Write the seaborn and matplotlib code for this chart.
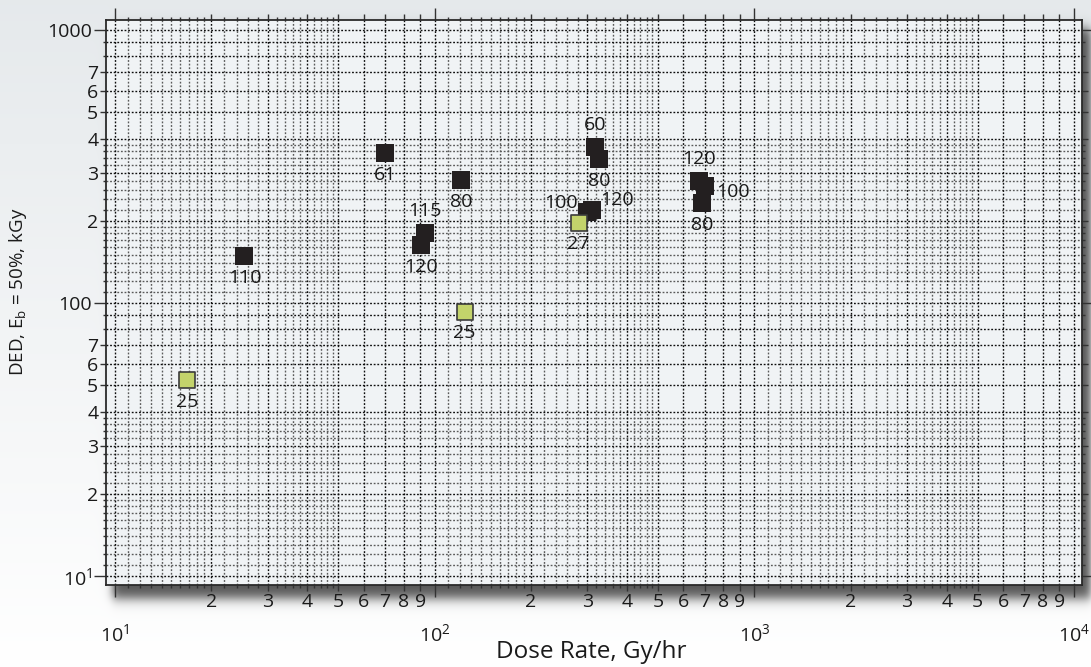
import numpy as np
import pandas as pd
import matplotlib
matplotlib.use("Agg")
import matplotlib.pyplot as plt
import seaborn as sns
from matplotlib.ticker import FixedLocator, FuncFormatter

# ---------------- data ----------------
dose_rate = [25.4, 69.7, 120.6, 93.0, 90.4, 318, 326, 299.6, 310, 669, 703, 685, 282, 124, 16.8]
ded_kgy   = [148.6, 354, 282, 181, 163, 374, 336, 215, 219, 281, 268, 232, 197, 92.9, 52.2]
point_labels = ["110", "61", "80", "115", "120", "60", "80", "100", "120", "120", "100", "80", "27", "25", "25"]
groups = ["black"] * 12 + ["green"] * 3
label_place = ["below", "below", "below", "above", "below", "above", "below", "left", "right",
               "above", "right_low", "below", "below", "below", "below"]

x_major_vals = [10, 100, 1000, 10000]
x_major_text = ["$10^1$", "$10^2$", "$10^3$", "$10^4$"]
y_major_vals = [10, 100, 1000]
y_major_text = ["$10^1$", "100", "1000"]

df = pd.DataFrame({"rate": dose_rate, "ded": ded_kgy, "label": point_labels, "group": groups,
                   "place": label_place})

# ---------------- style ----------------
sns.set_theme(style="white")
plt.rcParams["font.family"] = ["Open Sans", "DejaVu Sans"]
plt.rcParams["mathtext.fontset"] = "custom"
plt.rcParams["mathtext.rm"] = "Open Sans"
plt.rcParams["mathtext.it"] = "Open Sans:italic"
plt.rcParams["mathtext.bf"] = "Open Sans:bold"

W, H = 1091, 667
fig = plt.figure(figsize=(W / 100, H / 100), dpi=100)

# background with gradient and drop shadow
bgax = fig.add_axes([0, 0, 1, 1], zorder=-10)
yy, xx = np.mgrid[0:H, 0:W].astype(float)
top = np.array([0.90, 0.915, 0.925])
bot = np.array([1.0, 1.0, 1.0])
t = np.clip(yy / H, 0, 1)[..., None]
img = top * (1 - t) + bot * t
def soft(v, a, b, w):
    return 0.5 * (np.tanh((v - a) / w) - np.tanh((v - b) / w))
alpha = 0.85 * soft(xx, 112, 1090, 5.0) * soft(yy, 28, 598, 7.0)
shade = np.array([0.22, 0.22, 0.22])
img = img * (1 - alpha[..., None]) + shade * alpha[..., None]
bgax.imshow(img, extent=[0, W, H, 0], aspect="auto", interpolation="bilinear")
bgax.set_xlim(0, W)
bgax.set_ylim(H, 0)
bgax.axis("off")

L, R, T, B = 106, 1082, 20, 585
ax = fig.add_axes([L / W, 1 - B / H, (R - L) / W, (B - T) / H])
ax.set_facecolor("#f0f3f5")
ax.set_xscale("log")
ax.set_yscale("log")
ax.set_xlim(9.37, 10593)
ax.set_ylim(9.27, 1088)

# ---------------- log-paper grid ----------------
def grid_positions(decades, mid_end, top_end=10):
    strong, weak = [], []
    for d in decades:
        for v in np.arange(1.0, 2.0001, 0.1):
            (strong if abs(v - round(v)) < 1e-6 else weak).append(round(v, 2) * d)
        for v in np.arange(2.0, mid_end + 0.0001, 0.2):
            (strong if abs(v - round(v)) < 1e-6 else weak).append(round(v, 2) * d)
        for v in range(int(mid_end), top_end + 1):
            strong.append(v * d)
    return sorted(set(strong)), sorted(set(weak) - set(strong))

xs_strong, xs_weak = grid_positions([10, 100, 1000], 5.0)
ys_strong, ys_weak = grid_positions([10, 100], 4.0)

dot = (0, (1.3, 1.3))
for v in xs_weak:
    ax.axvline(v, color="#5a5a5a", lw=1.0, ls=dot, zorder=0.5)
for v in xs_strong:
    ax.axvline(v, color="#0d0d0d", lw=1.0, ls=dot, zorder=0.6)
for v in ys_weak:
    ax.axhline(v, color="#5a5a5a", lw=1.0, ls=dot, zorder=0.5)
for v in ys_strong:
    ax.axhline(v, color="#0d0d0d", lw=1.0, ls=dot, zorder=0.6)

# ---------------- points ----------------
blk = df[df.group == "black"]
grn = df[df.group == "green"]
sns.scatterplot(data=blk, x="rate", y="ded", marker="s", s=150, color="#231f20",
                edgecolor="#231f20", linewidth=0, ax=ax, legend=False, zorder=3)
sns.scatterplot(data=grn, x="rate", y="ded", marker="s", s=125, color="#c3d36b",
                edgecolor="#3b3b3b", linewidth=1.2, ax=ax, legend=False, zorder=4)
ax.set_xlabel("")
ax.set_ylabel("")

offsets = {"below": (0, -15.5), "above": (0, 15.5), "left": (-19, 6.5),
           "right": (18, 7.5), "right_low": (19.5, -4.3)}
for _, r in df.iterrows():
    ax.annotate(r["label"], (r["rate"], r["ded"]), xytext=offsets[r["place"]],
                textcoords="offset points", ha="center", va="center",
                fontsize=14, color="#1a1a1a", zorder=5)

# ---------------- ticks ----------------
ax.xaxis.set_major_locator(FixedLocator(x_major_vals))
ax.xaxis.set_major_formatter(FuncFormatter(lambda v, p: x_major_text[x_major_vals.index(round(v))] if round(v) in x_major_vals else ""))
ax.yaxis.set_major_locator(FixedLocator(y_major_vals))
ax.yaxis.set_major_formatter(FuncFormatter(lambda v, p: y_major_text[y_major_vals.index(round(v))] if round(v) in y_major_vals else ""))

x_minor = [v for v in xs_strong + xs_weak if v not in x_major_vals]
y_minor = [v for v in ys_strong + ys_weak if v not in y_major_vals] + [900, 800]
y_minor = sorted(set(y_minor))
x_minor = sorted(set(x_minor))

def mant(v):
    e = np.floor(np.log10(v) + 1e-9)
    return v / 10 ** e

def x_lab(v, p):
    m = mant(v)
    return str(int(round(m))) if abs(m - round(m)) < 1e-6 and 2 <= round(m) <= 9 else ""

def y_lab(v, p):
    m = mant(v)
    return str(int(round(m))) if abs(m - round(m)) < 1e-6 and 2 <= round(m) <= 7 else ""

ax.xaxis.set_minor_locator(FixedLocator(x_minor))
ax.xaxis.set_minor_formatter(FuncFormatter(x_lab))
ax.yaxis.set_minor_locator(FixedLocator(y_minor))
ax.yaxis.set_minor_formatter(FuncFormatter(y_lab))

ax.tick_params(which="both", direction="out", top=True, right=True, bottom=True, left=True,
               color="#333333", width=1.0, labelcolor="#1a1a1a")
ax.tick_params(which="major", length=8.6)
ax.tick_params(axis="x", which="major", labelsize=14, pad=19)
ax.tick_params(axis="y", which="major", labelsize=14, pad=1.5)
ax.tick_params(axis="x", which="minor", labelsize=14, pad=1.5)
ax.tick_params(axis="y", which="minor", labelsize=14, pad=1.5)

for axis, fmt in ((ax.xaxis, x_lab), (ax.yaxis, y_lab)):
    locs = axis.get_minorticklocs()
    ticks = axis.get_minor_ticks(len(locs))
    for tk, v in zip(ticks, locs):
        ln = 4.3 if fmt(v, None) else 2.2
        tk.tick1line.set_markersize(ln)
        tk.tick2line.set_markersize(ln)

for s in ax.spines.values():
    s.set_color("#2a2a2a")
    s.set_linewidth(1.3)

fig.text(591 / W, 1 - 652 / H, "Dose Rate, Gy/hr", ha="center", va="center",
         fontsize=17.5, color="#1a1a1a")
fig.text(18 / W, 1 - 292 / H, "DED, E$_\\mathrm{b}$ = 50%, kGy", ha="center", va="center",
         rotation=90, fontsize=13.5, color="#1a1a1a")

fig.savefig("out.png", dpi=100)
